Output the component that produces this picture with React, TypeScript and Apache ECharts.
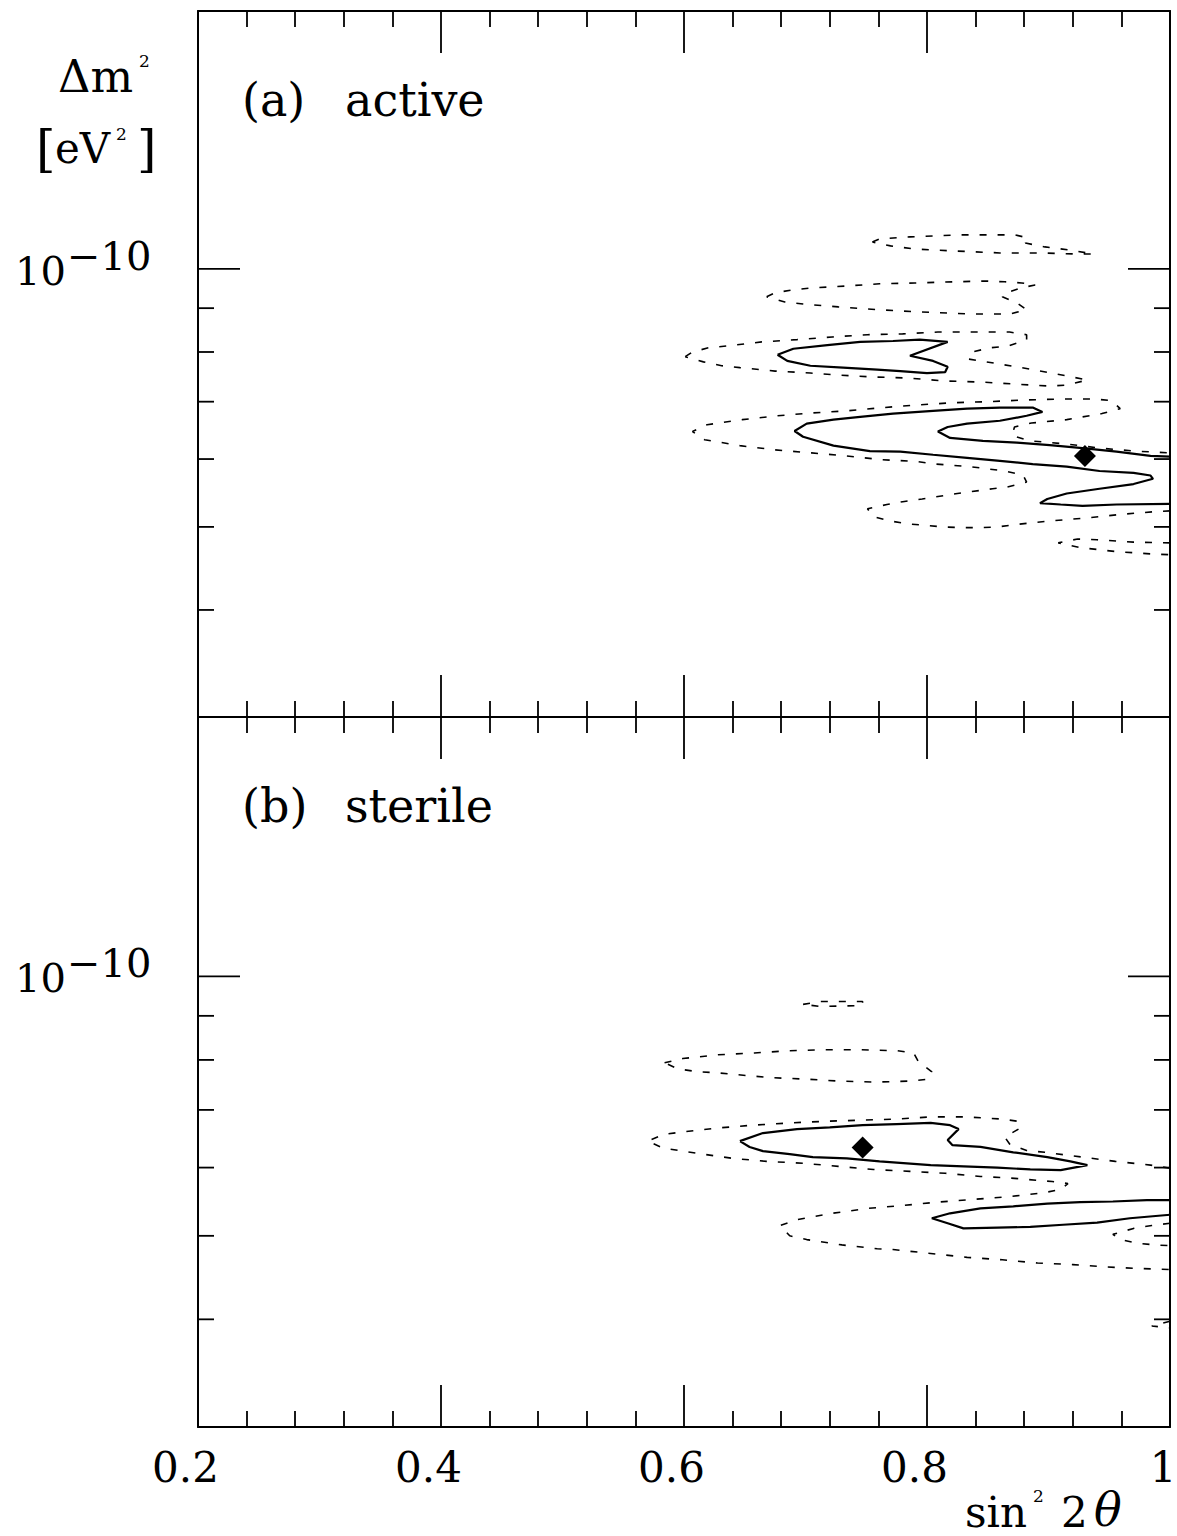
import React, { useEffect, useRef } from "react";
import * as echarts from "echarts";

const FONT = '"DejaVu Serif", "Liberation Serif", serif';

// x axis: sin^2 2θ
const X_MIN = 0.2;
const X_MAX = 1.0;
const X_STEP = 0.2;
// y axis: Δm² in units of 1e-11 eV² (log scale)
const Y_MIN = 3;
const Y_MAX = 20;
const Y_TICKS = [10, 9, 8, 7, 6, 5, 4];
const Y_MAJOR = [10];

// ---------- (a) active : [sin^2 2θ, Δm² (1e-11 eV²)] ----------
const activeDashTop = [
  [0.755, 10.75], [0.761, 10.84], [0.786, 10.9], [0.827, 10.96], [0.872, 10.96], [0.883, 10.87],
  [0.881, 10.72], [0.897, 10.61], [0.918, 10.52], [0.937, 10.41], [0.922, 10.41], [0.893, 10.44],
  [0.86, 10.44], [0.819, 10.5], [0.79, 10.55], [0.77, 10.64], [0.755, 10.75],
];
const activeDash2 = [
  [0.668, 9.28], [0.675, 9.38], [0.689, 9.45], [0.704, 9.5], [0.733, 9.55], [0.761, 9.61], [0.79, 9.63],
  [0.821, 9.66], [0.849, 9.68], [0.864, 9.66], [0.878, 9.63], [0.889, 9.58], [0.877, 9.5], [0.863, 9.35],
  [0.862, 9.28], [0.874, 9.13], [0.882, 8.96], [0.868, 8.86], [0.838, 8.86], [0.809, 8.89], [0.78, 8.93],
  [0.751, 8.98], [0.727, 9.03], [0.698, 9.1], [0.683, 9.15], [0.668, 9.28],
];
const activeDash3 = [
  [0.601, 7.9], [0.607, 8.0], [0.62, 8.09], [0.635, 8.13], [0.664, 8.22], [0.693, 8.27], [0.722, 8.33],
  [0.751, 8.38], [0.78, 8.4], [0.809, 8.44], [0.838, 8.44], [0.868, 8.44], [0.882, 8.38], [0.882, 8.27],
  [0.867, 8.13], [0.852, 8.09], [0.837, 8.0], [0.834, 7.85], [0.849, 7.79], [0.878, 7.67], [0.907, 7.54],
  [0.932, 7.42], [0.915, 7.32], [0.901, 7.3], [0.872, 7.34], [0.844, 7.38], [0.815, 7.4], [0.784, 7.46],
  [0.756, 7.48], [0.727, 7.52], [0.704, 7.56], [0.675, 7.6], [0.646, 7.67], [0.631, 7.71], [0.616, 7.79],
  [0.601, 7.9],
];
const activeSolidLoop = [
  [0.677, 7.94], [0.69, 8.07], [0.718, 8.15], [0.745, 8.22], [0.772, 8.24], [0.794, 8.27], [0.817, 8.22],
  [0.786, 7.92], [0.805, 7.81], [0.817, 7.69], [0.815, 7.58], [0.8, 7.56], [0.778, 7.6], [0.759, 7.63],
  [0.731, 7.67], [0.704, 7.71], [0.685, 7.81], [0.677, 7.94],
];
const activeDashBand = [
  [1.0, 5.22], [0.988, 5.21], [0.959, 5.17], [0.93, 5.12], [0.901, 5.08], [0.872, 5.03], [0.858, 5.0],
  [0.844, 4.99], [0.829, 4.99], [0.813, 5.0], [0.8, 5.02], [0.784, 5.04], [0.77, 5.08], [0.756, 5.14],
  [0.751, 5.25], [0.767, 5.31], [0.78, 5.35], [0.796, 5.39], [0.825, 5.47], [0.854, 5.54], [0.867, 5.57],
  [0.882, 5.64], [0.879, 5.75], [0.864, 5.81], [0.835, 5.88], [0.807, 5.92], [0.792, 5.96], [0.763, 5.99],
  [0.734, 6.05], [0.705, 6.1], [0.675, 6.15], [0.646, 6.22], [0.617, 6.32], [0.607, 6.46], [0.619, 6.58],
  [0.648, 6.67], [0.677, 6.74], [0.705, 6.79], [0.734, 6.83], [0.764, 6.89], [0.793, 6.94], [0.821, 6.98],
  [0.85, 7.0], [0.879, 7.03], [0.91, 7.05], [0.938, 7.05], [0.952, 7.02], [0.959, 6.87], [0.944, 6.78],
  [0.915, 6.67], [0.886, 6.61], [0.872, 6.54], [0.87, 6.39], [0.885, 6.3], [0.914, 6.25], [0.942, 6.18],
  [0.971, 6.13], [1.0, 6.1],
];
const activeDashTail = [
  [1.0, 4.79], [0.97, 4.8], [0.94, 4.83], [0.924, 4.84], [0.908, 4.79], [0.926, 4.73], [0.955, 4.68],
  [0.984, 4.65], [1.0, 4.64],
];
const activeSolidBand = [
  [1.0, 5.32], [0.956, 5.31], [0.928, 5.29], [0.91, 5.31], [0.893, 5.33], [0.899, 5.39], [0.915, 5.47],
  [0.942, 5.54], [0.97, 5.61], [0.986, 5.69], [0.984, 5.74], [0.97, 5.78], [0.942, 5.81], [0.915, 5.88],
  [0.887, 5.92], [0.86, 5.97], [0.833, 6.02], [0.805, 6.07], [0.778, 6.12], [0.753, 6.13], [0.723, 6.22],
  [0.698, 6.37], [0.691, 6.47], [0.701, 6.6], [0.723, 6.67], [0.745, 6.72], [0.772, 6.78], [0.805, 6.83],
  [0.833, 6.87], [0.86, 6.89], [0.887, 6.89], [0.895, 6.81], [0.882, 6.74], [0.86, 6.65], [0.833, 6.6],
  [0.817, 6.54], [0.809, 6.46], [0.819, 6.35], [0.846, 6.3], [0.874, 6.27], [0.901, 6.23], [0.928, 6.18],
  [0.956, 6.12], [0.984, 6.05], [1.0, 6.04],
];
const activeBest = [[0.93, 6.05]];

// ---------- (b) sterile ----------
const sterileDashTop = [
  [0.698, 9.28], [0.712, 9.35], [0.747, 9.35], [0.747, 9.25], [0.712, 9.23], [0.698, 9.28],
];
const sterileDash2 = [
  [0.584, 7.94], [0.599, 8.03], [0.628, 8.11], [0.658, 8.15], [0.687, 8.2], [0.716, 8.22], [0.745, 8.22],
  [0.775, 8.2], [0.789, 8.15], [0.793, 7.96], [0.804, 7.75], [0.801, 7.6], [0.786, 7.56], [0.757, 7.54],
  [0.728, 7.56], [0.7, 7.6], [0.671, 7.63], [0.644, 7.69], [0.627, 7.73], [0.612, 7.75], [0.595, 7.81],
  [0.584, 7.94],
];
const sterileDashBand = [
  [1.0, 5.99], [0.984, 6.04], [0.955, 6.1], [0.928, 6.17], [0.897, 6.25], [0.882, 6.28], [0.868, 6.39],
  [0.864, 6.51], [0.877, 6.67], [0.875, 6.79], [0.862, 6.83], [0.833, 6.87], [0.803, 6.87], [0.774, 6.83],
  [0.745, 6.81], [0.716, 6.79], [0.687, 6.76], [0.657, 6.72], [0.628, 6.67], [0.599, 6.6], [0.584, 6.56],
  [0.57, 6.44], [0.583, 6.32], [0.612, 6.23], [0.64, 6.15], [0.668, 6.1], [0.698, 6.07], [0.727, 6.02],
  [0.756, 5.97], [0.786, 5.94], [0.815, 5.91], [0.844, 5.86], [0.872, 5.83], [0.903, 5.78], [0.916, 5.75],
  [0.91, 5.66], [0.896, 5.61], [0.867, 5.55], [0.837, 5.51], [0.808, 5.47], [0.779, 5.42], [0.751, 5.38],
  [0.722, 5.31], [0.693, 5.22], [0.679, 5.14], [0.687, 5.0], [0.701, 4.95], [0.73, 4.88], [0.759, 4.83],
  [0.772, 4.82], [0.803, 4.77], [0.833, 4.72], [0.862, 4.69], [0.891, 4.65], [0.92, 4.63], [0.948, 4.6],
  [0.978, 4.58], [1.0, 4.57],
];
const sterileDashTail = [
  [1.0, 5.17], [0.985, 5.14], [0.97, 5.1], [0.953, 5.02], [0.959, 4.95], [0.974, 4.9], [0.988, 4.88], [1.0, 4.87],
];
const sterileDashCorner = [[1.0, 3.98], [0.985, 3.93], [1.0, 3.91]];
const sterileSolidLoop = [
  [0.646, 6.44], [0.665, 6.58], [0.693, 6.65], [0.72, 6.68], [0.747, 6.72], [0.775, 6.74], [0.803, 6.76],
  [0.819, 6.72], [0.826, 6.65], [0.817, 6.46], [0.821, 6.37], [0.844, 6.34], [0.871, 6.25], [0.899, 6.17],
  [0.918, 6.1], [0.932, 6.04], [0.91, 5.96], [0.885, 5.97], [0.858, 6.0], [0.83, 6.02], [0.803, 6.04],
  [0.761, 6.1], [0.734, 6.15], [0.706, 6.17], [0.687, 6.22], [0.665, 6.27], [0.654, 6.34], [0.646, 6.44],
];
const sterileSolidBand = [
  [1.0, 5.5], [0.981, 5.5], [0.953, 5.48], [0.926, 5.47], [0.899, 5.45], [0.871, 5.41], [0.844, 5.38],
  [0.819, 5.31], [0.804, 5.24], [0.817, 5.17], [0.83, 5.1], [0.858, 5.11], [0.885, 5.12], [0.912, 5.15],
  [0.94, 5.18], [0.967, 5.24], [1.0, 5.29],
];
const sterileBest = [[0.747, 6.33]];

const PANELS = [
  {
    solid: [activeSolidLoop, activeSolidBand],
    dashed: [activeDashTop, activeDash2, activeDash3, activeDashBand, activeDashTail],
    best: activeBest,
  },
  {
    solid: [sterileSolidLoop, sterileSolidBand],
    dashed: [sterileDashTop, sterileDash2, sterileDashBand, sterileDashTail, sterileDashCorner],
    best: sterileBest,
  },
];

const TICK_STYLE = { color: "#000", width: 1.8 };
const FRAME_STYLE = { color: "#000", width: 2 };

function xAxisDef(gridIndex: number, position: string, labels: boolean) {
  return {
    type: "value",
    gridIndex,
    position,
    min: X_MIN,
    max: X_MAX,
    interval: X_STEP,
    axisLine: { show: true, onZero: false, lineStyle: FRAME_STYLE },
    axisTick: { show: true, inside: true, length: 42, lineStyle: TICK_STYLE },
    minorTick: { show: true, splitNumber: 5, length: 16, lineStyle: TICK_STYLE },
    splitLine: { show: false },
    minorSplitLine: { show: false },
    axisLabel: labels
      ? {
          show: true,
          margin: 19,
          hideOverlap: false,
          showMinLabel: true,
          showMaxLabel: true,
          formatter: (v: number) => (v > 0.999 ? "{b|1}" : "{a|" + v.toFixed(1) + "}"),
          rich: {
            a: { fontSize: 42, fontFamily: FONT, color: "#000", padding: [0, 25, 0, 0] },
            b: { fontSize: 42, fontFamily: FONT, color: "#000", padding: [0, 14, 0, 0] },
          },
        }
      : { show: false },
  };
}

function yAxisDef(gridIndex: number, position: string) {
  return {
    type: "log",
    logBase: 10,
    gridIndex,
    position,
    min: Y_MIN,
    max: Y_MAX,
    axisLine: { show: true, onZero: false, lineStyle: FRAME_STYLE },
    axisTick: { show: false },
    axisLabel: { show: false },
    splitLine: { show: false },
    minorTick: { show: false },
  };
}

function txt(text: string, x: number, y: number, size: number, italic = false) {
  return {
    type: "text",
    x,
    y,
    silent: true,
    style: {
      text,
      fill: "#000",
      fontSize: size,
      fontFamily: FONT,
      fontStyle: italic ? "italic" : "normal",
      align: "left",
      verticalAlign: "middle",
      textAlign: "left",
      textVerticalAlign: "middle",
    },
  };
}

function tickSeries(panel: number) {
  return {
    type: "custom",
    xAxisIndex: panel * 2,
    yAxisIndex: panel * 2,
    silent: true,
    z: 4,
    data: Y_TICKS.map((v) => [X_MIN, v, Y_MAJOR.includes(v) ? 1 : 0]),
    encode: { x: 0, y: 1 },
    renderItem: (_params: any, api: any) => {
      const v = api.value(1);
      const major = api.value(2) === 1;
      const L = api.coord([X_MIN, v]);
      const R = api.coord([X_MAX, v]);
      const len = major ? 42 : 16;
      const style = { stroke: "#000", lineWidth: 1.8 };
      const children: any[] = [
        { type: "line", shape: { x1: L[0], y1: L[1], x2: L[0] + len, y2: L[1] }, style },
        { type: "line", shape: { x1: R[0] - len, y1: R[1], x2: R[0], y2: R[1] }, style },
      ];
      if (major) {
        children.push(txt("10", L[0] - 183, L[1] + 2, 40));
        children.push(txt("\u221210", L[0] - 131, L[1] - 13, 40));
      }
      return { type: "group", children };
    },
  };
}

export default function App() {
  const ref = useRef<HTMLDivElement>(null);

  useEffect(() => {
    document.body.style.margin = "0";
    document.body.style.overflow = "hidden";
    if (!ref.current) return;
    const chart = echarts.init(ref.current, undefined, { renderer: "svg" });

    const series: any[] = [];
    PANELS.forEach((p, i) => {
      p.dashed.forEach((d) =>
        series.push({
          type: "line",
          xAxisIndex: i * 2,
          yAxisIndex: i * 2,
          data: d,
          showSymbol: false,
          symbol: "none",
          silent: true,
          z: 3,
          lineStyle: { color: "#000", width: 1.6, type: [7, 11] },
        })
      );
      p.solid.forEach((d) =>
        series.push({
          type: "line",
          xAxisIndex: i * 2,
          yAxisIndex: i * 2,
          data: d,
          showSymbol: false,
          symbol: "none",
          silent: true,
          z: 3,
          lineStyle: { color: "#000", width: 2.2, type: "solid" },
        })
      );
      series.push({
        type: "scatter",
        xAxisIndex: i * 2,
        yAxisIndex: i * 2,
        data: p.best,
        symbol: "diamond",
        symbolSize: 22,
        itemStyle: { color: "#000", opacity: 1 },
        silent: true,
        z: 5,
      });
      series.push(tickSeries(i));
    });

    chart.setOption({
      animation: false,
      backgroundColor: "#fff",
      grid: [
        { left: 198, top: 11, width: 972, height: 706, containLabel: false, outerBoundsMode: "none" },
        { left: 198, top: 717, width: 972, height: 710, containLabel: false, outerBoundsMode: "none" },
      ],
      xAxis: [
        xAxisDef(0, "bottom", false),
        xAxisDef(0, "top", false),
        xAxisDef(1, "bottom", true),
        xAxisDef(1, "top", false),
      ],
      yAxis: [yAxisDef(0, "left"), yAxisDef(0, "right"), yAxisDef(1, "left"), yAxisDef(1, "right")],
      series,
      graphic: [
        txt("\u0394m", 58, 76, 45),
        txt("2", 139, 61, 17),
        txt("[", 36, 149, 50),
        txt("eV", 55, 148, 42),
        txt("2", 116, 134, 17),
        txt("]", 137, 149, 50),
        txt("(a)", 242, 100, 46),
        txt("active", 345, 100, 46),
        txt("(b)", 242, 806, 46),
        txt("sterile", 345, 806, 46),
        txt("sin", 965, 1512, 42),
        txt("2", 1033, 1496, 17),
        txt("2", 1061, 1512, 42),
        txt("\u03b8", 1094, 1510, 46, true),
      ],
    });

    return () => chart.dispose();
  }, []);

  return <div ref={ref} style={{ width: 1177, height: 1536 }} />;
}
